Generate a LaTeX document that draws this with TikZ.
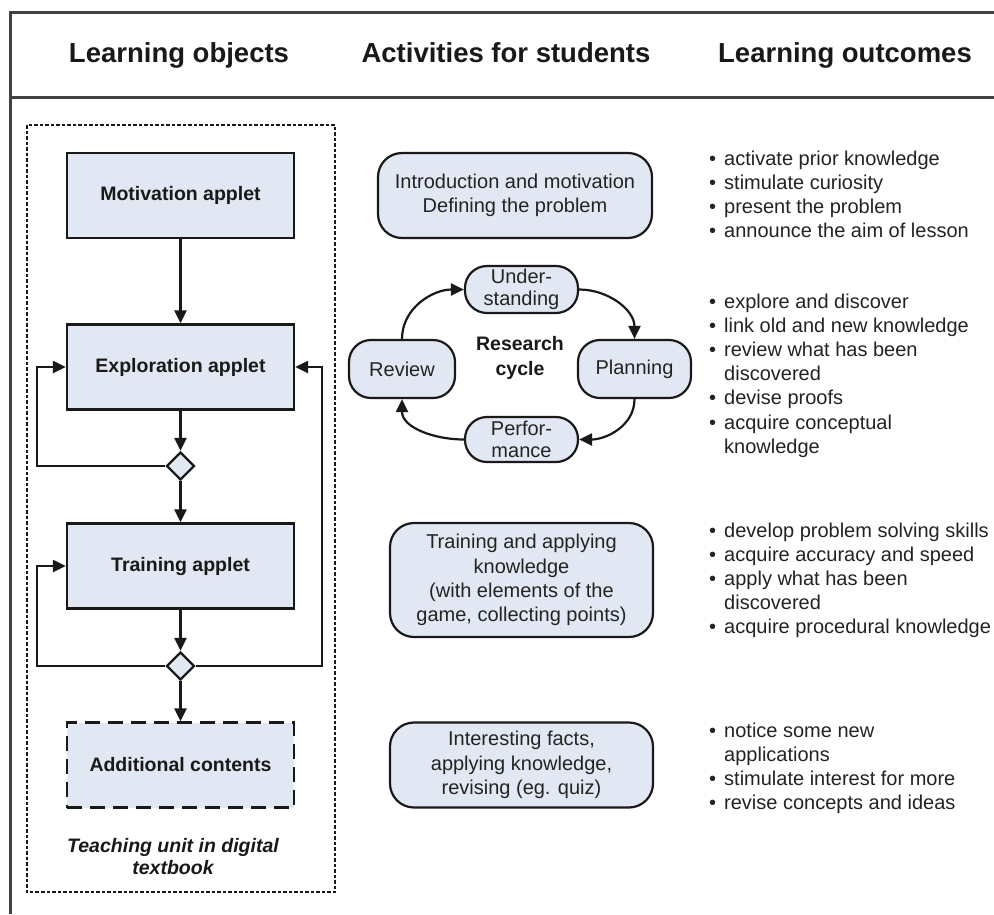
\documentclass[tikz,border=0pt]{standalone}
\usepackage{fontspec}
\setmainfont{Liberation Sans}
\usetikzlibrary{arrows.meta,shapes.geometric}
\definecolor{boxfill}{RGB}{226,232,243}
\definecolor{ink}{RGB}{25,25,25}
\definecolor{txt}{RGB}{35,35,35}
\definecolor{framec}{RGB}{65,65,65}
\tikzset{
  frameline/.style={draw=framec, line width=3pt},
  hdr/.style={anchor=base, inner sep=0pt, text=ink, font=\fontsize{27.5}{33}\selectfont\bfseries},
  objbox/.style={draw=ink, line width=2.4pt, fill=boxfill, minimum width=227pt, minimum height=85pt,
    inner sep=0pt, text=ink, font=\fontsize{19.5}{23}\selectfont\bfseries},
  decision/.style={diamond, aspect=1, draw=ink, line width=2.4pt, fill=boxfill, minimum width=28pt,
    minimum height=28pt, inner sep=0pt},
  flow/.style={draw=ink, line width=2.4pt, -{Triangle[length=13pt,width=12pt]}},
  actbox/.style={draw=ink, line width=2.2pt, fill=boxfill, rounded corners=24pt, align=center,
    inner sep=0pt, text=txt, font=\fontsize{20}{24.3}\selectfont},
  cycbox/.style={draw=ink, line width=2.2pt, fill=boxfill, rounded corners=22pt, align=center,
    inner sep=0pt, text=txt, font=\fontsize{20}{22.5}\selectfont},
  cycflow/.style={draw=ink, line width=2.2pt, -{Triangle[length=13pt,width=12pt]}},
  outlist/.style={anchor=base west, inner sep=0pt, text=txt, font=\fontsize{20}{24.2}\selectfont},
}
\newcommand{\bl}{\textbullet}
\begin{document}
\begin{tikzpicture}[x=1pt,y=-1pt]
\useasboundingbox (0,0) rectangle (994,914);
\fill[white] (0,0) rectangle (994,914);

% outer frame
\draw[frameline] (994,12) -- (10,12) -- (10,914);
\draw[frameline] (10,97) -- (994,97);

% headers
\node[hdr] (h1) at (179,62) {Learning objects};
\node[hdr] (h2) at (506,62) {Activities for students};
\node[hdr] (h3) at (845,62) {Learning outcomes};

% teaching unit frame
\draw[draw=ink, line width=2.2pt, dash pattern=on 3.5pt off 2pt] (27,125) rectangle (335,892);
\node[align=center, inner sep=0pt, text=ink, font=\fontsize{19.5}{22}\selectfont\bfseries\itshape]
  (unit) at (173,857) {Teaching unit in digital\\textbook};

% learning objects
\node[objbox] (mot) at (180.5,195.5) {Motivation applet};
\node[objbox] (exp) at (180.5,367) {Exploration applet};
\node[decision] (d1) at (180.5,466) {};
\node[objbox] (tra) at (180.5,566) {Training applet};
\node[decision] (d2) at (180.5,666) {};
\node[objbox, dash pattern=on 15pt off 8pt] (add) at (180.5,765) {Additional contents};

\coordinate (l1) at (37,466);
\coordinate (l2) at (37,367);
\coordinate (l3) at (37,666);
\coordinate (l4) at (37,566);
\coordinate (r1) at (322,666);
\coordinate (r2) at (322,367);

\draw[flow] (mot) -- (exp);
\draw[flow] (exp) -- (d1);
\draw[flow] (d1) -- (tra);
\draw[flow] (tra) -- (d2);
\draw[flow] (d2) -- (add);
\draw[flow] (d1.west) -- (l1) -- (l2) -- (exp.west);
\draw[flow] (d2.west) -- (l3) -- (l4) -- (tra.west);
\draw[flow] (d2.east) -- (r1) -- (r2) -- (exp.east);

% activities
\node[actbox, minimum width=274pt, minimum height=85pt] (intro) at (515,195.5)
  {Introduction and motivation\\Defining the problem};

\node[cycbox, minimum width=113pt, minimum height=47pt] (und) at (521.5,289.5) {Under-\\standing};
\node[cycbox, minimum width=113pt, minimum height=58pt] (pla) at (634.5,369) {Planning};
\node[cycbox, minimum width=113pt, minimum height=45pt] (per) at (521.5,439.5) {Perfor-\\mance};
\node[cycbox, minimum width=106pt, minimum height=58pt] (rev) at (402,369) {Review};
\node[align=center, inner sep=0pt, text=ink, font=\fontsize{19.5}{25}\selectfont\bfseries]
  (rc) at (520,357.5) {Research\\cycle};

\draw[cycflow] (und.east) to[out=0,in=90] (pla.north);
\draw[cycflow] (pla.south) to[out=-90,in=0] (per.east);
\draw[cycflow] (per.west) to[out=180,in=-90] (rev.south);
\draw[cycflow] (rev.north) to[out=90,in=180] (und.west);

\node[actbox, minimum width=263pt, minimum height=114pt] (train) at (521.5,580)
  {Training and applying\\knowledge\\(with elements of the\\game, collecting points)};
\node[actbox, minimum width=263pt, minimum height=85pt] (facts) at (521.5,765)
  {Interesting facts,\\applying knowledge,\\revising (eg. quiz)};

% learning outcomes
\node[outlist] (o1) at (709,165) {\begin{tabular}[t]{@{}c@{\hspace{8pt}}l@{}}
\bl & activate prior knowledge\\
\bl & stimulate curiosity\\
\bl & present the problem\\
\bl & announce the aim of lesson
\end{tabular}};
\node[outlist] (o2) at (709,308) {\begin{tabular}[t]{@{}c@{\hspace{8pt}}l@{}}
\bl & explore and discover\\
\bl & link old and new knowledge\\
\bl & review what has been\\
    & discovered\\
\bl & devise proofs\\
\bl & acquire conceptual\\
    & knowledge
\end{tabular}};
\node[outlist] (o3) at (709,537) {\begin{tabular}[t]{@{}c@{\hspace{8pt}}l@{}}
\bl & develop problem solving skills\\
\bl & acquire accuracy and speed\\
\bl & apply what has been\\
    & discovered\\
\bl & acquire procedural knowledge
\end{tabular}};
\node[outlist] (o4) at (709,737) {\begin{tabular}[t]{@{}c@{\hspace{8pt}}l@{}}
\bl & notice some new\\
    & applications\\
\bl & stimulate interest for more\\
\bl & revise concepts and ideas
\end{tabular}};
\end{tikzpicture}
\end{document}
